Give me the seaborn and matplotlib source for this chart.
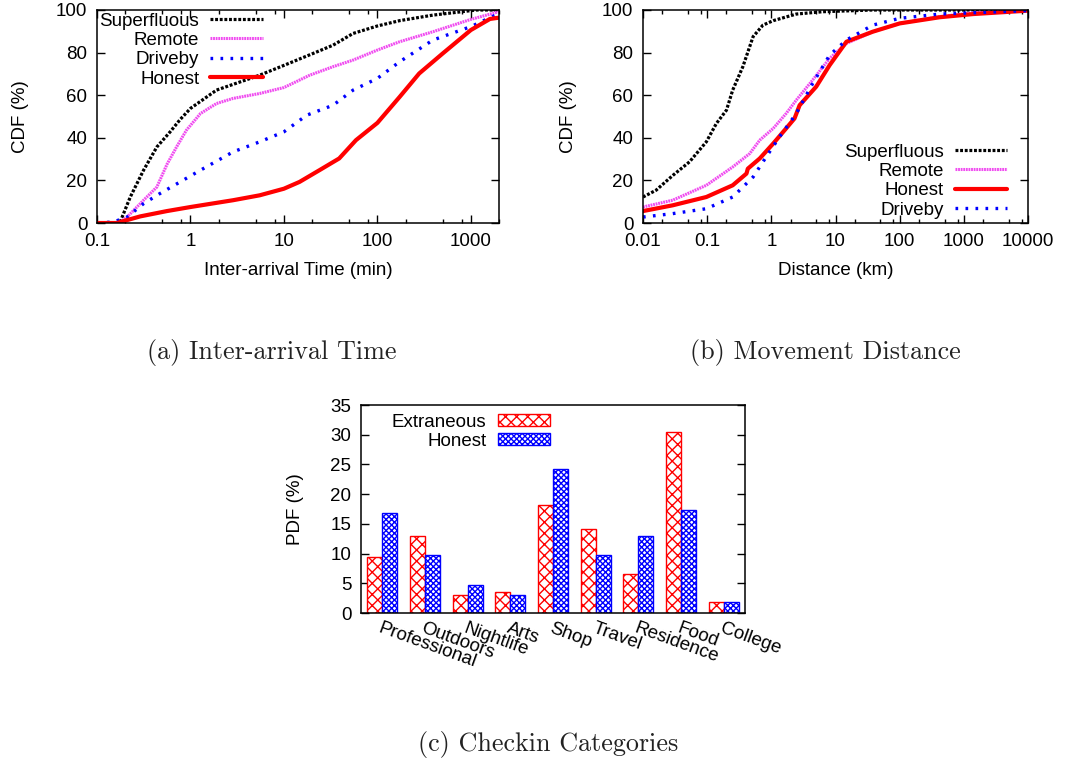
import matplotlib
matplotlib.use("Agg")
import matplotlib.pyplot as plt
import numpy as np
import pandas as pd
import seaborn as sns
from matplotlib.patches import Patch
from matplotlib.ticker import LogLocator, NullFormatter, FixedLocator, FuncFormatter

# ---------------- data ----------------
# (a) inter-arrival time CDF (minutes, %)
sup_t = [0.1, 0.15, 0.177, 0.227, 0.315, 0.437, 0.606, 0.776, 1.0, 1.9, 5.5, 10, 20.5, 33.6, 55, 100, 173, 393, 1000, 1150, 2000]
sup_c = [0, 0, 0.5, 12.2, 24.8, 35.7, 42.8, 48.6, 53.8, 62.4, 69.4, 74.0, 79.6, 83.5, 89.0, 92.5, 95.0, 97.6, 99.7, 100, 100]
rem_t = [0.1, 0.17, 0.21, 0.315, 0.437, 0.56, 0.71, 0.906, 1.28, 1.9, 2.86, 5.5, 10, 18.9, 33.6, 55, 100, 173, 393, 1000, 2000]
rem_c = [0, 0, 2.8, 10.7, 16.9, 27.5, 35.7, 43.6, 51.4, 56.1, 58.5, 60.8, 63.6, 69.4, 73.4, 76.5, 81.2, 85.1, 89.8, 95.6, 99.2]
drv_t = [0.1, 0.15, 0.21, 0.315, 0.47, 0.776, 1.28, 2.86, 5.5, 10, 17.5, 33.6, 55, 100, 173, 393, 1000, 2000]
drv_c = [0, 0.5, 2.8, 9.1, 13.8, 19.3, 24.8, 33.4, 38.1, 42.8, 50.6, 55.3, 62.4, 67.9, 75.7, 85.9, 92.2, 98.4]
hon_t = [0.1, 0.163, 0.29, 0.56, 1.0, 2.86, 5.5, 10, 14.7, 24, 39, 59, 100, 173, 280, 500, 1000, 1600, 2000]
hon_c = [0, 0, 3.1, 5.6, 7.5, 10.7, 13.0, 16.1, 19.3, 24.8, 30.3, 38.9, 47.0, 59.2, 70.2, 79.6, 90.6, 95.8, 96.4]

# (b) movement distance CDF (km, %)
sup_d = [0.01, 0.016, 0.0293, 0.053, 0.097, 0.139, 0.2, 0.25, 0.36, 0.52, 0.74, 1.07, 2.45, 6.35, 38, 10000]
sup_dc = [12.2, 15.4, 22.4, 28.7, 38.1, 46.7, 53.0, 62.4, 73.4, 87.5, 92.9, 95.0, 98.1, 99.2, 100, 100]
rem_d = [0.01, 0.029, 0.097, 0.25, 0.46, 0.66, 1.07, 1.7, 2.45, 4.4, 8.1, 14.8, 38, 100, 420, 1400, 10000]
rem_dc = [7.5, 10.7, 17.7, 26.3, 32.6, 38.9, 44.4, 51.4, 57.7, 67.1, 77.3, 84.3, 89.8, 93.7, 96.9, 98.7, 100]
hon_d = [0.01, 0.029, 0.097, 0.25, 0.41, 0.43, 0.66, 1.07, 1.7, 2.3, 2.76, 5.0, 8.1, 14.8, 38, 100, 420, 1400, 10000]
hon_dc = [5.6, 8.3, 12.2, 17.7, 23.2, 25.5, 30.3, 37.3, 44.4, 49.1, 55.3, 64.0, 74.1, 85.1, 89.8, 93.7, 96.6, 98.1, 99.7]
drv_d = [0.01, 0.029, 0.097, 0.25, 0.52, 0.83, 1.34, 2.45, 4.4, 8.1, 14.8, 38, 100, 420, 10000]
drv_dc = [2.8, 4.4, 6.7, 12.2, 21.6, 31.0, 40.4, 51.4, 65.5, 78.8, 85.9, 92.9, 96.1, 98.1, 99.7]

# (c) checkin category PDF (%)
categories = ["Professional", "Outdoors", "Nightlife", "Arts", "Shop",
              "Travel", "Residence", "Food", "College"]
extraneous_pdf = [9.4, 13.0, 3.0, 3.6, 18.2, 14.1, 6.6, 30.5, 1.9]
honest_pdf = [16.9, 9.8, 4.7, 3.1, 24.2, 9.8, 12.9, 17.4, 1.9]

# ---------------- style ----------------
sns.set_style("ticks")
plt.rcParams["font.family"] = ["Liberation Sans", "DejaVu Sans"]
plt.rcParams["hatch.linewidth"] = 1.0
plt.rcParams["axes.linewidth"] = 1.1
for key in ("text.color", "axes.labelcolor", "xtick.color", "ytick.color", "axes.edgecolor"):
    plt.rcParams[key] = "black"
FS = 13.5

line_styles = {
    "Superfluous": dict(color="black", lw=2.3, ls=(0, (0.9, 0.55))),
    "Remote": dict(color="#f04cf0", lw=2.2, ls=(0, (0.6, 0.25))),
    "Driveby": dict(color="#0000ff", lw=2.4, ls=(0, (0.8, 2.2))),
    "Honest": dict(color="#ff0000", lw=3.0, ls="-"),
}

W, H = 1085, 766
fig = plt.figure(figsize=(W / 100, H / 100), dpi=100)


def axes_px(left, top, right, bottom):
    return fig.add_axes([left / W, 1 - bottom / H, (right - left) / W, (bottom - top) / H])


def style_axes(ax):
    ax.tick_params(which="both", direction="in", top=True, right=True,
                   labelsize=FS, pad=7, width=1.0, color="black", labelcolor="black")
    ax.tick_params(which="major", length=6)
    ax.tick_params(which="minor", length=3)
    for s in ax.spines.values():
        s.set_color("black")


def log_fmt(v, pos):
    return f"{v:g}"


def cdf_panel(ax, series, xlim, xlabel, xticks):
    for name, x, y in series:
        st = line_styles[name]
        sns.lineplot(x=x, y=y, ax=ax, color=st["color"], linewidth=st["lw"],
                     linestyle=st["ls"], label=name, estimator=None,
                     sort=False)
    ax.set_xscale("log")
    ax.set_xlim(*xlim)
    ax.set_ylim(0, 100)
    ax.xaxis.set_major_locator(FixedLocator(xticks))
    ax.xaxis.set_major_formatter(FuncFormatter(log_fmt))
    ax.xaxis.set_minor_locator(LogLocator(base=10, subs=(2.0, 5.0, 8.0), numticks=20))
    ax.xaxis.set_minor_formatter(NullFormatter())
    ax.set_yticks([0, 20, 40, 60, 80, 100])
    ax.set_xlabel(xlabel, fontsize=FS)
    ax.set_ylabel("CDF (%)", fontsize=FS)
    style_axes(ax)


legend_kw = dict(markerfirst=False, frameon=False, fontsize=FS, handlelength=2.8,
                 handletextpad=0.6, labelspacing=0.12, borderpad=0.0, borderaxespad=0.0)

# (a)
ax_a = axes_px(97, 10, 499, 223)
cdf_panel(ax_a,
          [("Superfluous", sup_t, sup_c), ("Remote", rem_t, rem_c),
           ("Driveby", drv_t, drv_c), ("Honest", hon_t, hon_c)],
          (0.1, 2000), "Inter-arrival Time (min)", [0.1, 1, 10, 100, 1000])
ax_a.yaxis.set_label_coords(-0.17, 0.5)
ax_a.xaxis.set_label_coords(0.5, -0.183)
ax_a.legend(loc="upper left", bbox_to_anchor=(0.006, 0.988), **legend_kw)

# (b)
ax_b = axes_px(643, 10, 1028, 223)
cdf_panel(ax_b,
          [("Superfluous", sup_d, sup_dc), ("Remote", rem_d, rem_dc),
           ("Honest", hon_d, hon_dc), ("Driveby", drv_d, drv_dc)],
          (0.01, 10000), "Distance (km)", [0.01, 0.1, 1, 10, 100, 1000, 10000])
ax_b.yaxis.set_label_coords(-0.171, 0.5)
ax_b.xaxis.set_label_coords(0.5, -0.183)
ax_b.legend(loc="lower right", bbox_to_anchor=(0.946, 0.02), **legend_kw)

# (c)
ax_c = axes_px(361, 405, 745, 613)
bars = pd.DataFrame({
    "category": categories * 2,
    "pdf": extraneous_pdf + honest_pdf,
    "group": ["Extraneous"] * len(categories) + ["Honest"] * len(categories),
})
bar_colors = {"Extraneous": "#ff0000", "Honest": "#0000ff"}
bar_hatch = {"Extraneous": "xxx", "Honest": "xxxxxx"}
sns.barplot(data=bars, x="category", y="pdf", hue="group", order=categories,
            hue_order=["Extraneous", "Honest"], palette=bar_colors, width=0.7,
            ax=ax_c, legend=False, errorbar=None)
for cont, grp in zip(ax_c.containers, ["Extraneous", "Honest"]):
    for p in cont.patches:
        p.set_facecolor("white")
        p.set_edgecolor(bar_colors[grp])
        p.set_hatch(bar_hatch[grp])
        p.set_linewidth(1.0)
ax_c.set_xlim(-0.5, len(categories) - 0.5)
ax_c.set_ylim(0, 35)
ax_c.set_yticks(range(0, 36, 5))
ax_c.set_xlabel("")
ax_c.set_ylabel("PDF (%)", fontsize=FS)
ax_c.yaxis.set_label_coords(-0.148, 0.5)
style_axes(ax_c)
ax_c.tick_params(axis="x", length=0, pad=5)
ax_c.set_xticks(range(len(categories)))
ax_c.set_xticklabels(categories, rotation=-20, ha="left", va="top",
                     rotation_mode="anchor", fontsize=FS)
leg_handles = [Patch(facecolor="white", edgecolor=bar_colors[g], hatch=bar_hatch[g], label=g)
               for g in ["Extraneous", "Honest"]]
ax_c.legend(handles=leg_handles, loc="upper left", bbox_to_anchor=(0.08, 0.958),
            markerfirst=False, frameon=False, fontsize=FS, handlelength=2.8,
            handleheight=0.6, handletextpad=0.6, labelspacing=0.12, borderpad=0.0,
            borderaxespad=0.0)

# sub-figure captions
cap = dict(fontsize=18.8, family="cmr10", ha="center", va="center", color="#222222")
fig.text(272 / W, 1 - 353 / H, "(a) Inter-arrival Time", **cap)
fig.text(825 / W, 1 - 353 / H, "(b) Movement Distance", **cap)
fig.text(548 / W, 1 - 745 / H, "(c) Checkin Categories", **cap)

fig.savefig("out.png", dpi=100)
